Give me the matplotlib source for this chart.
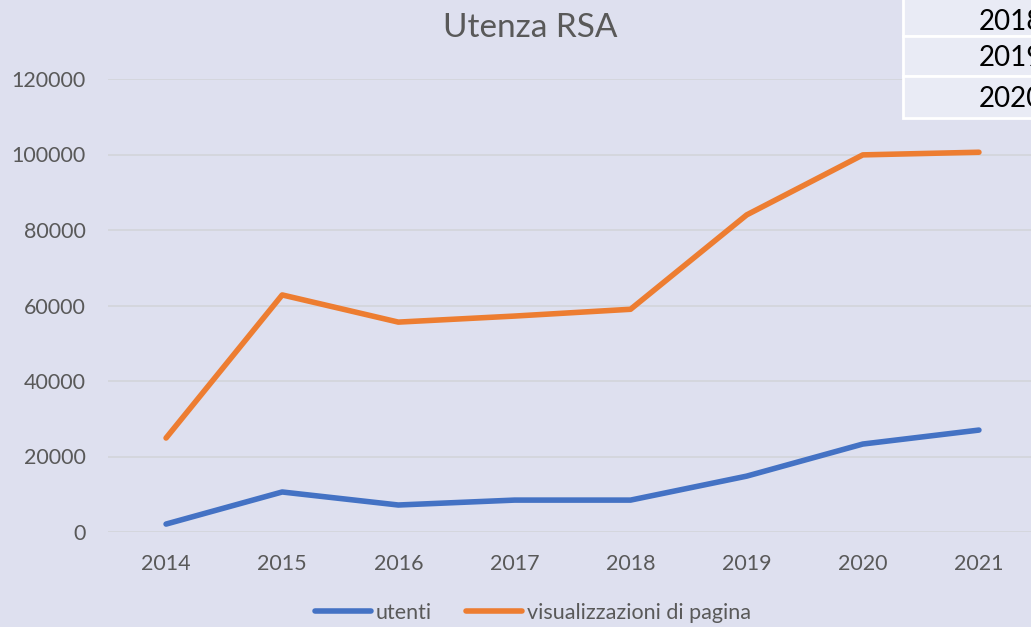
import matplotlib.pyplot as plt
from matplotlib.patches import Rectangle

# data
anni = ["2014", "2015", "2016", "2017", "2018", "2019", "2020", "2021"]
utenti = [2100, 10600, 7150, 8450, 8450, 14800, 23300, 27000]
visualizzazioni = [24900, 62800, 55600, 57200, 59000, 84000, 99900, 100600]
tabella_anni = ["2018", "2019", "2020"]

bg = "#dee0ef"
grey = "#595959"
plt.rcParams["font.family"] = ["Lato", "DejaVu Sans"]

fig = plt.figure(figsize=(10.31, 6.27), dpi=100, facecolor=bg)
ax = fig.add_axes([108 / 1031, 1 - 532 / 627, 929 / 1031, 453 / 627])
ax.set_facecolor(bg)

x = range(len(anni))
ax.plot(x, utenti, color="#4472C4", lw=4, solid_capstyle="round", label="utenti")
ax.plot(x, visualizzazioni, color="#ED7D31", lw=4, solid_capstyle="round",
        label="visualizzazioni di pagina")

ax.set_xlim(-0.5, len(anni) - 0.5)
ax.set_ylim(0, 120000)
ax.set_yticks(range(0, 120001, 20000))
ax.set_xticks(list(x))
ax.set_xticklabels(anni)
ax.grid(axis="y", color="#d4d5dc", lw=1.3)
ax.set_axisbelow(True)
for s in ax.spines.values():
    s.set_visible(False)
ax.tick_params(length=0, labelsize=15.5, labelcolor=grey)
ax.tick_params(axis="y", pad=16)
ax.tick_params(axis="x", pad=16)

fig.text(530 / 1031, 1 - 28 / 627, "Utenza RSA", ha="center", va="center",
         fontsize=24, color=grey)

ax.legend(loc="center", bbox_to_anchor=(533 / 1031, 1 - 613 / 627),
          bbox_transform=fig.transFigure, ncol=2, frameon=False,
          fontsize=15.5, labelcolor=grey, handlelength=2.6, handletextpad=0.2,
          columnspacing=1.6, borderaxespad=0, borderpad=0)

# table fragment in the top right corner (cut off by the edge, as in the reference)
righe = [(-2, 36), (36, 76), (76, 118)]
centri = [22, 58, 99]
for (y0, y1), yc, t in zip(righe, centri, tabella_anni):
    fig.patches.append(Rectangle((903 / 1031, 1 - y1 / 627), 140 / 1031,
                                 (y1 - y0) / 627, transform=fig.transFigure,
                                 facecolor="#e9ebf5", edgecolor="white", lw=2))
    fig.text(979 / 1031, 1 - yc / 627, t, ha="left", va="center",
             fontsize=20, color="black")

fig.savefig("out.png", dpi=100, facecolor=bg)
